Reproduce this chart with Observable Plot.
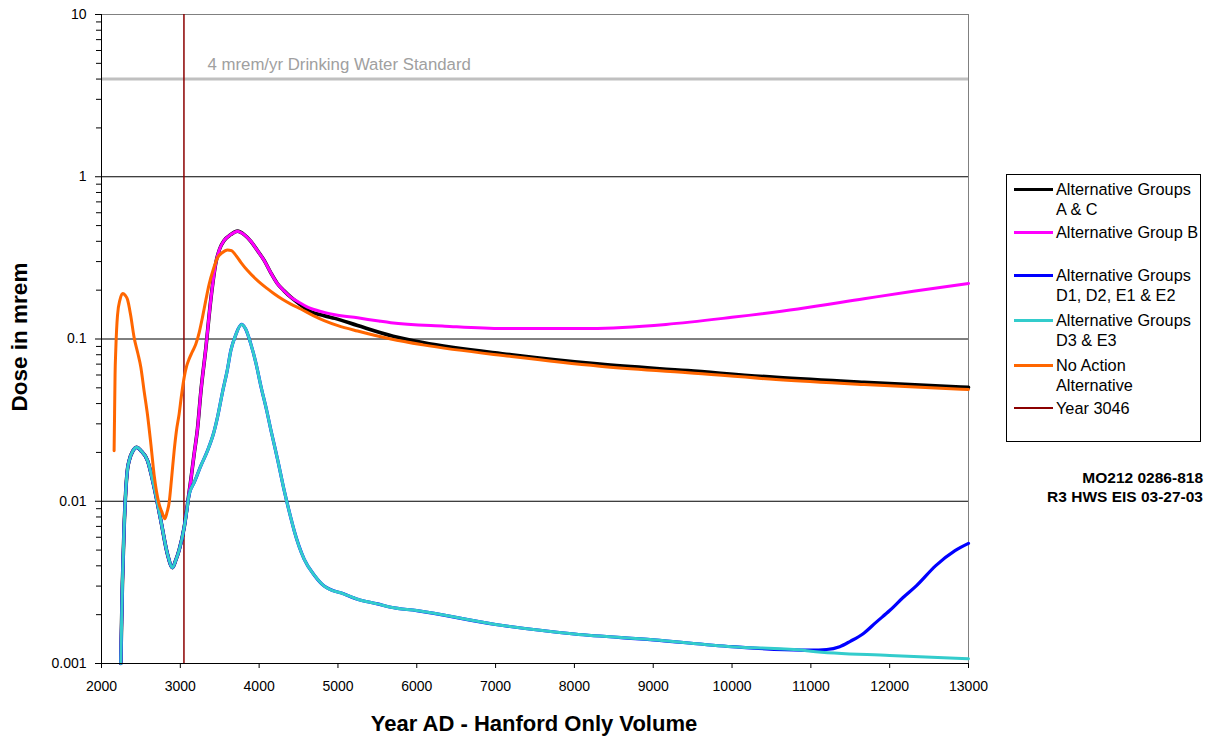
<!DOCTYPE html>
<html><head><meta charset="utf-8">
<script src="https://cdn.jsdelivr.net/npm/d3@7"></script>
<script src="https://cdn.jsdelivr.net/npm/@observablehq/plot@0.6"></script>
<style>
body{margin:0;background:#fff;font-family:"Liberation Sans",Arial,sans-serif;}
#wrap{position:relative;width:1205px;height:740px;overflow:hidden;}
.abs{position:absolute;white-space:nowrap;color:#000;}
#legend{position:absolute;left:1006px;top:174px;width:195px;height:268px;border:1px solid #000;box-sizing:border-box;font-size:16.3px;}
.item{position:absolute;left:49px;line-height:20px;}
.sw{position:absolute;left:7px;width:39px;}
</style></head><body><div id="wrap"></div>
<script>
// ---- data ----
const seriesNames = ["Alternative Groups A & C","Alternative Group B","Alternative Groups D1, D2, E1 & E2","Alternative Groups D3 & E3","No Action Alternative"];
// shared early part (A&C, B, D1.., D3..)
const earlyYears = [2245, 2255, 2266, 2285, 2308, 2330, 2351, 2400, 2448, 2500, 2584, 2668, 2753, 2838, 2901, 2940, 2985, 3049];
const earlyDose  = [0.001, 0.0018, 0.0032, 0.0065, 0.0116, 0.0158, 0.0178, 0.0205, 0.0215, 0.0205, 0.0178, 0.0122, 0.0076, 0.0047, 0.0039, 0.0043, 0.0050, 0.0069];
// D3 & E3 after the split
const cyanYears = [3080, 3112, 3175, 3260, 3345, 3429, 3472, 3535, 3598, 3641, 3700, 3776, 3830, 3895, 3960, 4022, 4100, 4149, 4233, 4317, 4402, 4444, 4571, 4700, 4825, 5079, 5249, 5502, 5671, 6000, 7000, 8000, 9000, 10000, 10880, 11000, 12000, 13000];
const cyanDose  = [0.0086, 0.0110, 0.0130, 0.0165, 0.0205, 0.027, 0.033, 0.047, 0.065, 0.085, 0.105, 0.123, 0.115, 0.093, 0.0708, 0.0513, 0.0355, 0.0275, 0.0182, 0.0117, 0.0079, 0.0066, 0.0044, 0.0035, 0.0030, 0.00268, 0.00249, 0.00233, 0.00222, 0.00212, 0.00174, 0.00152, 0.0014, 0.00127, 0.00121, 0.00119, 0.00112, 0.00107];
// D1, D2, E1 & E2 tail (follows D3 & E3 until the split)
const blueTailYears = [11000, 11200, 11366, 11500, 11659, 11830, 12000, 12170, 12341, 12585, 12829, 13000];
const blueTailDose  = [0.00121, 0.00122, 0.00127, 0.00137, 0.00152, 0.0018, 0.00212, 0.00255, 0.00302, 0.00401, 0.00496, 0.0055];
// Group B after the split
const magentaYears = [3091, 3133, 3175, 3218, 3260, 3324, 3387, 3451, 3500, 3556, 3640, 3726, 3810, 3895, 3980, 4064, 4150, 4233, 4317, 4402, 4508, 4614, 4825, 4961, 5249, 5519, 5671, 6357, 7093, 8210, 9162, 9998, 10836, 11674, 12300, 13000];
const magentaDose  = [0.0096, 0.0135, 0.0195, 0.028, 0.047, 0.088, 0.175, 0.295, 0.36, 0.405, 0.44, 0.462, 0.44, 0.400, 0.350, 0.305, 0.255, 0.219, 0.198, 0.181, 0.168, 0.157, 0.146, 0.141, 0.135, 0.129, 0.126, 0.12, 0.116, 0.116, 0.123, 0.136, 0.153, 0.177, 0.197, 0.22];
// A & C tail (follows Group B until 4402)
const blackTailYears = [4508, 4614, 4825, 4961, 5249, 5700, 6078, 7202, 8321, 9441, 10557, 11674, 13000];
const blackTailDose  = [0.165, 0.151, 0.139, 0.134, 0.121, 0.104, 0.095, 0.080, 0.070, 0.0638, 0.058, 0.054, 0.0503];
// No Action
const orangeYears = [2160, 2166, 2172, 2181, 2203, 2235, 2270, 2300, 2330, 2370, 2414, 2460, 2499, 2540, 2584, 2626, 2668, 2731, 2770, 2803, 2830, 2858, 2890, 2922, 2950, 2985, 3015, 3049, 3080, 3112, 3150, 3197, 3240, 3281, 3320, 3366, 3420, 3472, 3530, 3598, 3650, 3700, 3768, 3850, 3980, 4100, 4190, 4300, 4402, 4529, 4680, 4825, 5000, 5249, 5671, 6078, 7202, 8321, 9441, 10557, 11674, 13000];
const orangeDose  = [0.0205, 0.035, 0.06, 0.085, 0.14, 0.175, 0.191, 0.186, 0.175, 0.14, 0.102, 0.082, 0.067, 0.048, 0.034, 0.0226, 0.0145, 0.0096, 0.0085, 0.0078, 0.0085, 0.0098, 0.0140, 0.0205, 0.027, 0.0345, 0.045, 0.058, 0.068, 0.0754, 0.083, 0.093, 0.110, 0.136, 0.17, 0.218, 0.27, 0.317, 0.34, 0.354, 0.35, 0.33, 0.297, 0.265, 0.229, 0.205, 0.19, 0.175, 0.164, 0.153, 0.140, 0.130, 0.121, 0.112, 0.100, 0.092, 0.078, 0.068, 0.062, 0.0563, 0.0524, 0.0488];
const markerYear = 3046;
const standardDose = 4;
const standardLabel = "4 mrem/yr Drinking Water Standard";
const xTicks = [2000,3000,4000,5000,6000,7000,8000,9000,10000,11000,12000,13000];
const yTicks = [0.001,0.01,0.1,1,10];
const gridDoses = [0.01,0.1,1];
const minorTicks = [];
for (const d of [0.001,0.01,0.1,1]) for (let k=2;k<=9;k++) minorTicks.push(+(d*k).toPrecision(3));

// ---- build rows ----
const zip = (ys, ds) => ys.map((y,i)=>({year:y, dose:ds[i]}));
const early = zip(earlyYears, earlyDose);
const cyan = early.concat(zip(cyanYears, cyanDose));
const blue = cyan.filter(d=>d.year<=10880).concat(zip(blueTailYears, blueTailDose));
const magenta = early.concat(zip(magentaYears, magentaDose));
const black = magenta.filter(d=>d.year<=4402).concat(zip(blackTailYears, blackTailDose));
const orange = zip(orangeYears, orangeDose);

const colors = ["#000000","#FF00FF","#0000FF","#33CCCC","#FF6600"];
const lineOpts = (c,w)=>({x:"year", y:"dose", stroke:c, strokeWidth:w, curve:"monotone-x", strokeLinejoin:"round"});

const chart = Plot.plot({
  width:1205, height:740, marginLeft:101, marginRight:237, marginTop:14, marginBottom:77,
  style:{fontFamily:"Liberation Sans, Arial, sans-serif", fontSize:"14px", color:"#000", background:"transparent", overflow:"visible"},
  x:{domain:[2000,13000]},
  y:{type:"log", domain:[0.001,10]},
  marks:[
    Plot.ruleY(gridDoses, {stroke:"#000", strokeWidth:1}),
    Plot.ruleY([10], {stroke:"#808080", strokeWidth:1}),
    Plot.ruleX([13000], {stroke:"#808080", strokeWidth:1}),
    Plot.ruleY([standardDose], {stroke:"#c0c0c0", strokeWidth:3}),
    Plot.text([standardLabel], {text:d=>d, frameAnchor:"top-left", dx:106, dy:44, fill:"#a0a0a0", fontSize:16.8, textAnchor:"start"}),
    Plot.ruleX([markerYear], {stroke:"#8B0000", strokeWidth:1.5}),
    Plot.line(black, lineOpts(colors[0],3.6)),
    Plot.line(magenta, lineOpts(colors[1],3)),
    Plot.line(blue, lineOpts(colors[2],3.2)),
    Plot.line(cyan, lineOpts(colors[3],3)),
    Plot.line(orange, lineOpts(colors[4],3)),
    Plot.ruleX([2000], {stroke:"#000", strokeWidth:1}),
    Plot.ruleY([0.001], {stroke:"#000", strokeWidth:1}),
    Plot.axisX({ticks:xTicks, tickFormat:d=>String(d), tickSize:5, tickPadding:13, label:null, fontSize:14}),
    Plot.axisY({ticks:yTicks, tickFormat:d=>String(d), tickSize:6, tickPadding:9, label:null, fontSize:14}),
    Plot.axisY(minorTicks, {tickSize:5, tickFormat:()=>"", label:null, stroke:"#000", strokeOpacity:1})
  ]
});
const wrap = document.getElementById("wrap");
wrap.appendChild(chart);

function addText(txt, css){ const d=document.createElement("div"); d.className="abs"; d.textContent=txt; Object.assign(d.style, css); wrap.appendChild(d); return d; }
addText("Year AD - Hanford Only Volume", {left:"534px", top:"724px", transform:"translate(-50%,-50%)", fontWeight:"bold", fontSize:"22px"});
addText("Dose in mrem", {left:"20px", top:"337px", transform:"translate(-50%,-50%) rotate(-90deg)", fontWeight:"bold", fontSize:"22.5px"});
addText("MO212 0286-818", {right:"2px", top:"469px", fontWeight:"bold", fontSize:"15.5px"});
addText("R3 HWS EIS 03-27-03", {right:"2px", top:"488px", fontWeight:"bold", fontSize:"15.5px"});

// legend
const legend = document.createElement("div"); legend.id="legend"; wrap.appendChild(legend);
const legendLines = [["Alternative Groups","A & C"],["Alternative Group B"],["Alternative Groups","D1, D2, E1 & E2"],["Alternative Groups","D3 & E3"],["No Action","Alternative"],["Year 3046"]];
const legendColors = colors.concat(["#8B0000"]);
const legendTops = [4, 47, 90, 135, 180, 223];
legendLines.forEach((lines,i)=>{
  const sw=document.createElement("div"); sw.className="sw";
  const h = i===5?1.5:3;
  sw.style.top=(legendTops[i]+10-h/2)+"px"; sw.style.height=h+"px"; sw.style.background=legendColors[i];
  legend.appendChild(sw);
  const t=document.createElement("div"); t.className="item"; t.style.top=legendTops[i]+"px";
  t.innerHTML=lines.map(s=>s.replace(/&/g,"&amp;")).join("<br>");
  legend.appendChild(t);
});
</script></body></html>
